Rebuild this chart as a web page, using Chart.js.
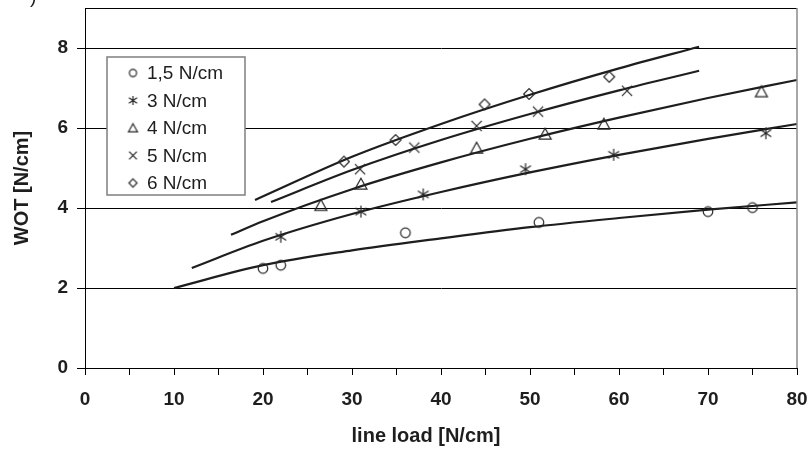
<!DOCTYPE html>
<html>
<head>
<meta charset="utf-8">
<script src="https://cdn.jsdelivr.net/npm/chart.js@4.4.1/dist/chart.umd.min.js"></script>
<style>
  html, body { margin: 0; padding: 0; background: #fff; }
</style>
</head>
<body>
<canvas id="chart" width="811" height="449"></canvas>
<script>
// Series names
const SERIES = ['1,5 N/cm', '3 N/cm', '4 N/cm', '5 N/cm', '6 N/cm'];

// Measured points (line load, WOT)
const x15 = [20, 22, 36, 51, 70, 75];
const y15 = [2.49, 2.57, 3.38, 3.64, 3.91, 4.01];
const x3 = [22, 31, 38, 49.5, 59.4, 76.5];
const y3 = [3.28, 3.91, 4.34, 4.97, 5.33, 5.87];
const x4 = [26.5, 31, 44, 51.7, 58.3, 76];
const y4 = [4.07, 4.6, 5.5, 5.85, 6.1, 6.91];
const x5 = [30.9, 37, 44, 50.9, 60.9];
const y5 = [4.97, 5.51, 6.05, 6.41, 6.93];
const x6 = [29.1, 34.9, 44.9, 49.9, 58.9];
const y6 = [5.16, 5.7, 6.59, 6.85, 7.28];

// Trend curves
const cx15 = [10, 20, 30, 40, 50, 60, 70, 80];
const cy15 = [2.0, 2.57, 2.94, 3.24, 3.52, 3.75, 3.96, 4.14];
const cx3 = [12, 20, 30, 40, 50, 60, 70, 80];
const cy3 = [2.5, 3.18, 3.85, 4.4, 4.89, 5.33, 5.73, 6.1];
const cx4 = [16.4, 20, 30, 40, 50, 60, 70, 80];
const cy4 = [3.33, 3.67, 4.47, 5.14, 5.73, 6.26, 6.75, 7.2];
const cx5 = [20.9, 30, 40, 50, 60, 69];
const cy5 = [4.15, 4.95, 5.7, 6.35, 6.94, 7.43];
const cx6 = [19.1, 30, 40, 50, 60, 69];
const cy6 = [4.2, 5.28, 6.1, 6.83, 7.49, 8.03];

const X_LABELS = [0, 10, 20, 30, 40, 50, 60, 70, 80];
const Y_LABELS = [0, 2, 4, 6, 8];

const INK = '#1e1e1e';
const FONT = "'Liberation Sans', Arial, sans-serif";

const pts = (xs, ys) => xs.map((x, i) => ({ x, y: ys[i] }));

// Excel-like marker glyphs as small canvases; s = half size
function marker(kind, s) {
  const n = Math.ceil(s * 2 + 4);
  const c = document.createElement('canvas');
  c.width = n; c.height = n;
  const g = c.getContext('2d');
  const m = n / 2;
  g.strokeStyle = '#262626';
  g.lineWidth = 1.2;
  g.beginPath();
  if (kind === 'circle') {
    g.arc(m, m, s * 0.8, 0, Math.PI * 2);
  } else if (kind === 'asterisk') {
    g.moveTo(m, m - s); g.lineTo(m, m + s);
    g.moveTo(m - s * 0.9, m - s * 0.6); g.lineTo(m + s * 0.9, m + s * 0.6);
    g.moveTo(m + s * 0.9, m - s * 0.6); g.lineTo(m - s * 0.9, m + s * 0.6);
  } else if (kind === 'triangle') {
    g.moveTo(m, m - s * 0.95); g.lineTo(m + s, m + s * 0.85); g.lineTo(m - s, m + s * 0.85); g.closePath();
  } else if (kind === 'x') {
    g.moveTo(m - s * 0.85, m - s * 0.85); g.lineTo(m + s * 0.85, m + s * 0.85);
    g.moveTo(m + s * 0.85, m - s * 0.85); g.lineTo(m - s * 0.85, m + s * 0.85);
  } else if (kind === 'diamond') {
    g.moveTo(m, m - s * 0.9); g.lineTo(m + s * 0.9, m); g.lineTo(m, m + s * 0.9); g.lineTo(m - s * 0.9, m); g.closePath();
  }
  g.stroke();
  return c;
}

const KINDS = ['circle', 'asterisk', 'triangle', 'x', 'diamond'];
const MARKERS = KINDS.map((k) => marker(k, 6));
const KEY_MARKERS = KINDS.map((k) => marker(k, 4.5));

const pointSets = [pts(x15, y15), pts(x3, y3), pts(x4, y4), pts(x5, y5), pts(x6, y6)];
const curveSets = [pts(cx15, cy15), pts(cx3, cy3), pts(cx4, cy4), pts(cx5, cy5), pts(cx6, cy6)];

const datasets = [];
pointSets.forEach((d, i) => datasets.push({
  label: SERIES[i],
  data: d,
  showLine: false,
  pointStyle: MARKERS[i],
  pointRadius: 5,
}));
curveSets.forEach((d, i) => datasets.push({
  label: 'fit ' + SERIES[i],
  data: d,
  showLine: true,
  borderColor: INK,
  borderWidth: 2.2,
  pointRadius: 0,
  cubicInterpolationMode: 'monotone',
}));

// Legend box inside plot, frame, x title
const extras = {
  id: 'extras',
  afterDraw(chart) {
    const { ctx, chartArea: a } = chart;
    ctx.save();
    // top + right frame
    ctx.strokeStyle = '#000';
    ctx.lineWidth = 1;
    ctx.beginPath();
    ctx.moveTo(a.left, a.top + 0.5); ctx.lineTo(a.right, a.top + 0.5);
    ctx.stroke();
    ctx.strokeStyle = '#8a8a8a';
    ctx.lineWidth = 1.5;
    ctx.beginPath();
    ctx.moveTo(a.right, a.top); ctx.lineTo(a.right, a.bottom);
    ctx.stroke();

    // legend
    const bx = a.left + 22, by = a.top + 49, bw = 138, bh = 138;
    ctx.fillStyle = '#fff';
    ctx.fillRect(bx, by, bw, bh);
    ctx.strokeStyle = '#7f7f7f';
    ctx.lineWidth = 1.5;
    ctx.strokeRect(bx, by, bw, bh);
    ctx.fillStyle = INK;
    ctx.font = '19px ' + FONT;
    ctx.textBaseline = 'middle';
    ctx.textAlign = 'left';
    SERIES.forEach((s, i) => {
      const cy = by + 16 + i * 27.5;
      const img = KEY_MARKERS[i];
      ctx.drawImage(img, bx + 26 - img.width / 2, cy - img.height / 2);
      ctx.fillText(s, bx + 40, cy + 1);
    });

    // x axis title
    ctx.font = 'bold 20px ' + FONT;
    ctx.textAlign = 'center';
    ctx.fillText('line load [N/cm]', (a.left + a.right) / 2 - 15, a.bottom + 68);

    // clipped panel letter at the top edge
    ctx.font = '19px ' + FONT;
    ctx.textAlign = 'left';
    ctx.textBaseline = 'alphabetic';
    ctx.fillText(')', 30, 3);
    ctx.restore();
  }
};

new Chart(document.getElementById('chart'), {
  type: 'scatter',
  data: { datasets },
  plugins: [extras],
  options: {
    responsive: false,
    animation: false,
    layout: { padding: { top: 8, right: 14, left: 0, bottom: 0 } },
    plugins: {
      legend: { display: false },
      tooltip: { enabled: false },
    },
    scales: {
      x: {
        type: 'linear',
        min: 0,
        max: 80,
        afterFit: (s) => { s.height = 81; s.paddingLeft = 0; s.paddingRight = 0; },
        ticks: {
          stepSize: 5,
          color: INK,
          padding: 13,
          maxRotation: 0,
          font: { family: FONT, size: 19, weight: 'bold' },
          callback: (v) => X_LABELS.includes(v) ? String(v) : '',
        },
        grid: { drawOnChartArea: false, color: '#000', tickLength: 7 },
        border: { color: '#000', width: 1 },
      },
      y: {
        min: 0,
        max: 9,
        afterFit: (s) => { s.width = 85; s.paddingTop = 0; s.paddingBottom = 0; },
        afterBuildTicks: (s) => { s.ticks = Y_LABELS.map((v) => ({ value: v })); },
        ticks: {
          color: INK,
          padding: 9,
          font: { family: FONT, size: 19, weight: 'bold' },
        },
        grid: { color: '#000', lineWidth: 1, tickLength: 8 },
        border: { color: '#000', width: 1 },
        title: {
          display: true,
          text: 'WOT [N/cm]',
          color: INK,
          padding: { top: 10, bottom: 0 },
          font: { family: FONT, size: 20, weight: 'bold' },
        },
      },
    },
  },
});
</script>
</body>
</html>
